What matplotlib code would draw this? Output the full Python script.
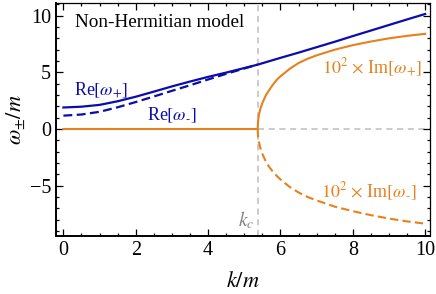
import matplotlib
matplotlib.use('Agg')
import matplotlib.pyplot as plt
from matplotlib.ticker import MultipleLocator

plt.rcParams['font.family'] = ['Liberation Serif', 'DejaVu Serif']
plt.rcParams['mathtext.fontset'] = 'stix'

# values
k_c = 5.37
k_re = [0, 0.5, 1, 1.5, 2, 2.5, 3, 3.5, 4, 4.5, 5, 5.37, 6, 6.5, 7, 7.5, 8,
        8.5, 9, 9.5, 10]
re_plus = [1.9, 1.97, 2.13, 2.45, 2.85, 3.3, 3.76, 4.19, 4.6, 4.98, 5.38, 5.68,
           6.28, 6.74, 7.22, 7.7, 8.2, 8.69, 9.18, 9.67, 10.15]
k_re_minus = [0, 0.5, 1, 1.5, 2, 2.5, 3, 3.5, 4, 4.5, 5, 5.37]
re_minus = [1.18, 1.28, 1.52, 1.92, 2.38, 2.87, 3.37, 3.86, 4.37, 4.87, 5.34, 5.68]

k_im = [0, 5.37, 5.38, 5.4, 5.45, 5.5, 5.6, 5.7, 5.8, 5.9, 6.0, 6.25, 6.5,
        6.75, 7.0, 7.5, 8.0, 8.5, 9.0, 9.5, 10.0]
im_plus = [0, 0, 0.7, 1.2, 1.85, 2.3, 3.0, 3.5, 3.95, 4.35, 4.65, 5.3, 5.82,
           6.2, 6.5, 7.0, 7.4, 7.72, 8.0, 8.22, 8.4]
k_im_minus = [5.37, 5.38, 5.4, 5.45, 5.5, 5.6, 5.7, 5.8, 5.9, 6.0, 6.25, 6.5,
              6.75, 7.0, 7.5, 8.0, 8.5, 9.0, 9.5, 10.0]
im_minus = [0, -0.65, -1.1, -1.75, -2.2, -2.9, -3.4, -3.8, -4.15, -4.45,
            -5.1, -5.6, -6.0, -6.3, -6.85, -7.25, -7.6, -7.9, -8.15, -8.35]

blue = '#0c0cab'
orange = '#e8801c'
gray = '#bdbdbd'

fig = plt.figure(figsize=(4.36, 2.94), dpi=100)
ax = fig.add_axes([0.128, 0.198, 0.858, 0.793])

ax.axvline(k_c, color=gray, lw=1.1, ls=(0, (4, 3)), zorder=1)
ax.plot([k_c, 10.2], [0, 0], color=gray, lw=1.1, ls=(0, (4, 3)), zorder=1)

ax.plot(k_re, re_plus, color=blue, lw=1.6, zorder=3)
ax.plot(k_re_minus, re_minus, color=blue, lw=1.6, ls=(0, (4, 2)), zorder=3)
ax.plot(k_im, im_plus, color=orange, lw=1.5, zorder=2)
ax.plot(k_im_minus, im_minus, color=orange, lw=1.5, ls=(0, (4, 2)), zorder=2)

ax.text(0.3, 3.4, r'Re$[\omega_{+}]$', color=blue, fontsize=13, va='center')
ax.text(2.32, 1.25, r'Re$[\omega_{\text{-}}]$', color=blue, fontsize=13, va='center')
ax.text(9.92, 5.4, r'$10^2$ $\times$ Im$[\omega_{+}]$', color=orange,
        fontsize=13, va='center', ha='right')
ax.text(9.75, -5.5, r'$10^2$ $\times$ Im$[\omega_{\text{-}}]$', color=orange,
        fontsize=13, va='center', ha='right')
ax.text(5.28, -8.0, r'$k_c$', color='#808080', fontsize=14, va='center', ha='right')
ax.text(0.33, 9.4, 'Non-Hermitian model', fontsize=13.8, va='center')

ax.set_xlim(-0.21, 10.13)
ax.set_ylim(-9.42, 11.15)
ax.xaxis.set_major_locator(MultipleLocator(2))
ax.xaxis.set_minor_locator(MultipleLocator(0.5))
ax.yaxis.set_major_locator(MultipleLocator(5))
ax.yaxis.set_minor_locator(MultipleLocator(1))
ax.tick_params(which='both', direction='in', top=True, right=True,
               labelsize=14.5, width=0.9)
ax.tick_params(which='major', length=5)
ax.tick_params(which='minor', length=2.5)
ax.set_yticks([-5, 0, 5, 10])
ax.set_yticklabels(['\u22125', '0', '5', '10'])
for side in ['left', 'bottom']:
    ax.spines[side].set_linewidth(1.4)
for side in ['top', 'right']:
    ax.spines[side].set_linewidth(0.9)

ax.set_xlabel(r'$k/m$', fontsize=16, labelpad=9)
ax.set_ylabel(r'$\omega_{\pm}/m$', fontsize=16, labelpad=2)

fig.savefig('out.png', dpi=100)
